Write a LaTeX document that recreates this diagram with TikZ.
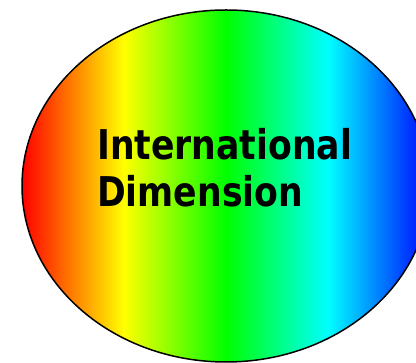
\documentclass[tikz,border=0pt]{standalone}
\usepackage{fontspec}
\setmainfont{DejaVu Sans}[FakeStretch=0.845]
\usepackage{xcolor}
\usepackage{tikz}
\pgfdeclarehorizontalshading{rainbowBand}{100bp}{color(0bp)=(red); color(25bp)=(red); color(37.5bp)=(yellow); color(50bp)=(green); color(62.5bp)=(cyan); color(75bp)=(blue); color(100bp)=(blue)}

\begin{document}
\begin{tikzpicture}[x=1pt, y=1pt, font=\fontsize{41}{47}\selectfont\bfseries]
\useasboundingbox (0,0) rectangle (416,363);
\draw[line width=1.5pt, shade, shading=rainbowBand] (226,177) ellipse [x radius=204pt, y radius=176pt];
\node[anchor=base west, inner sep=0pt] (intl) at (97,203) {International};
\node[anchor=base west, inner sep=0pt] (dim)  at (97,156) {Dimension};
\end{tikzpicture}
\end{document}
